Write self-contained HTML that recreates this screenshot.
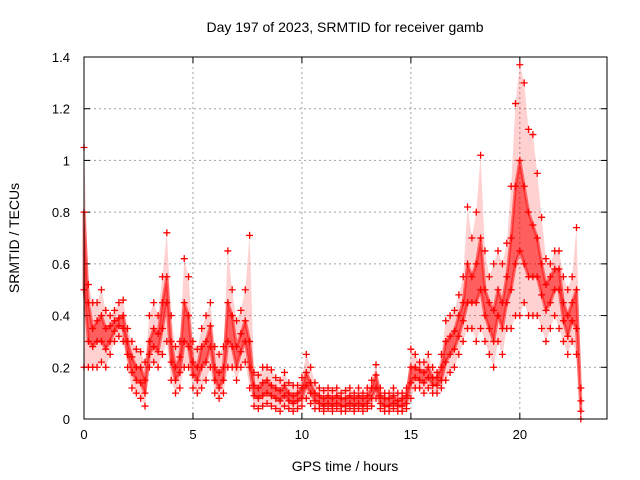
<!DOCTYPE html>
<html><head><meta charset="utf-8"><style>
body{margin:0;background:#fff}
svg{display:block;font-family:"Liberation Sans",sans-serif}
</style></head><body>
<svg id="c" width="640" height="480"></svg>
<script>
const times=[0.0,0.2,0.4,0.6,0.8,1.0,1.2,1.4,1.6,1.8,2.0,2.2,2.4,2.6,2.8,3.0,3.2,3.4,3.6,3.8,4.0,4.2,4.4,4.6,4.8,5.0,5.2,5.4,5.6,5.8,6.0,6.2,6.4,6.6,6.8,7.0,7.2,7.4,7.6,7.8,8.0,8.2,8.4,8.6,8.8,9.0,9.2,9.4,9.6,9.8,10.0,10.2,10.4,10.6,10.8,11.0,11.2,11.4,11.6,11.8,12.0,12.2,12.4,12.6,12.8,13.0,13.2,13.4,13.6,13.8,14.0,14.2,14.4,14.6,14.8,15.0,15.2,15.4,15.6,15.8,16.0,16.2,16.4,16.6,16.8,17.0,17.2,17.4,17.6,17.8,18.0,18.2,18.4,18.6,18.8,19.0,19.2,19.4,19.6,19.8,20.0,20.2,20.4,20.6,20.8,21.0,21.2,21.4,21.6,21.8,22.0,22.2,22.4,22.6,22.8];
const lowVals=[0.2,0.2,0.2,0.2,0.22,0.2,0.25,0.3,0.32,0.3,0.2,0.12,0.1,0.08,0.05,0.2,0.22,0.2,0.25,0.3,0.15,0.1,0.12,0.2,0.2,0.12,0.1,0.12,0.15,0.2,0.1,0.08,0.1,0.2,0.2,0.15,0.2,0.22,0.12,0.05,0.04,0.05,0.06,0.05,0.04,0.03,0.05,0.04,0.03,0.04,0.05,0.08,0.06,0.04,0.04,0.03,0.04,0.03,0.04,0.03,0.03,0.04,0.03,0.04,0.03,0.04,0.05,0.08,0.04,0.03,0.03,0.04,0.03,0.03,0.04,0.08,0.12,0.12,0.1,0.12,0.1,0.1,0.12,0.15,0.18,0.2,0.25,0.3,0.35,0.35,0.3,0.35,0.3,0.25,0.2,0.3,0.25,0.35,0.35,0.4,0.4,0.45,0.4,0.4,0.4,0.35,0.3,0.35,0.4,0.35,0.3,0.25,0.3,0.25,0.0];
const lowMidVals=[0.5,0.3,0.28,0.3,0.3,0.27,0.3,0.34,0.36,0.35,0.25,0.18,0.15,0.14,0.1,0.25,0.28,0.26,0.35,0.45,0.22,0.15,0.18,0.3,0.28,0.17,0.15,0.2,0.22,0.28,0.15,0.12,0.15,0.3,0.28,0.2,0.26,0.3,0.2,0.09,0.08,0.09,0.1,0.09,0.08,0.07,0.09,0.07,0.06,0.07,0.08,0.13,0.1,0.07,0.06,0.05,0.06,0.05,0.06,0.05,0.05,0.06,0.05,0.06,0.05,0.06,0.08,0.12,0.06,0.05,0.05,0.06,0.05,0.05,0.06,0.14,0.16,0.15,0.14,0.16,0.13,0.13,0.15,0.22,0.25,0.27,0.32,0.38,0.45,0.45,0.45,0.5,0.4,0.35,0.3,0.4,0.35,0.45,0.5,0.6,0.65,0.6,0.55,0.55,0.55,0.48,0.42,0.45,0.5,0.5,0.38,0.32,0.38,0.35,0.03];
const highMidVals=[0.8,0.45,0.35,0.38,0.4,0.35,0.36,0.38,0.39,0.4,0.3,0.24,0.2,0.2,0.15,0.3,0.35,0.33,0.45,0.55,0.3,0.2,0.24,0.45,0.4,0.22,0.2,0.28,0.3,0.36,0.2,0.18,0.2,0.45,0.4,0.28,0.33,0.38,0.3,0.13,0.12,0.14,0.15,0.13,0.12,0.11,0.13,0.1,0.09,0.1,0.12,0.18,0.14,0.1,0.09,0.08,0.09,0.08,0.09,0.08,0.08,0.09,0.08,0.09,0.08,0.09,0.12,0.17,0.09,0.08,0.08,0.09,0.07,0.08,0.09,0.2,0.2,0.19,0.18,0.2,0.16,0.16,0.2,0.3,0.32,0.34,0.4,0.45,0.6,0.55,0.6,0.7,0.5,0.45,0.42,0.5,0.45,0.55,0.7,0.9,1.0,0.9,0.8,0.75,0.7,0.6,0.52,0.55,0.58,0.58,0.45,0.4,0.45,0.5,0.07];
const highVals=[1.05,0.52,0.45,0.45,0.5,0.42,0.4,0.42,0.45,0.46,0.35,0.3,0.27,0.26,0.22,0.4,0.45,0.4,0.55,0.72,0.4,0.28,0.3,0.62,0.55,0.3,0.27,0.35,0.4,0.45,0.28,0.25,0.28,0.65,0.5,0.38,0.42,0.5,0.71,0.18,0.17,0.2,0.2,0.19,0.16,0.15,0.18,0.14,0.13,0.13,0.16,0.25,0.2,0.14,0.12,0.11,0.12,0.11,0.12,0.1,0.11,0.12,0.1,0.12,0.1,0.12,0.15,0.21,0.12,0.1,0.1,0.12,0.1,0.1,0.12,0.27,0.25,0.22,0.22,0.25,0.2,0.18,0.25,0.38,0.4,0.42,0.48,0.55,0.82,0.7,0.8,1.02,0.65,0.55,0.6,0.65,0.6,0.68,0.9,1.22,1.37,1.3,1.12,1.1,0.95,0.78,0.62,0.6,0.65,0.65,0.55,0.5,0.55,0.74,0.12];
const xTicks=[0,5,10,15,20];
const yTicks=[0,0.2,0.4,0.6,0.8,1,1.2,1.4];
const yTickLabels=["0","0.2","0.4","0.6","0.8","1","1.2","1.4"];

const L=84,R=607,T=57,B=419;
const xs=v=>L+(v/24)*(R-L);
const ys=v=>B-(v/1.4)*(B-T);
const NS="http://www.w3.org/2000/svg";
const svg=document.getElementById('c');
function mk(tag,attrs,parent){const e=document.createElementNS(NS,tag);for(const k in attrs)e.setAttribute(k,attrs[k]);(parent||svg).appendChild(e);return e;}

const grid=mk('g',{});


xTicks.forEach(v=>{
  if(v>0){mk('line',{x1:xs(v),x2:xs(v),y1:T,y2:B,stroke:'#a0a0a0','stroke-dasharray':'2,3'},grid);}
  mk('line',{x1:xs(v),x2:xs(v),y1:B,y2:B-6,stroke:'#000'},grid);
  mk('line',{x1:xs(v),x2:xs(v),y1:T,y2:T+6,stroke:'#000'},grid);
  const t=mk('text',{x:xs(v),y:B+20,'text-anchor':'middle','font-size':'13',fill:'#000'});
  t.textContent=v;
  
  
});
yTicks.forEach((v,i)=>{
  if(v>0&&v<1.4){mk('line',{x1:L,x2:R,y1:ys(v),y2:ys(v),stroke:'#a0a0a0','stroke-dasharray':'2,3'},grid);}
  mk('line',{x1:L,x2:L+6,y1:ys(v),y2:ys(v),stroke:'#000'},grid);
  mk('line',{x1:R,x2:R-6,y1:ys(v),y2:ys(v),stroke:'#000'},grid);
  const t=mk('text',{x:L-14,y:ys(v)+5,'text-anchor':'end','font-size':'13',fill:'#000'});
  t.textContent=yTickLabels[i];
  
  
});

function bandPath(top,bot){
  let d='';
  times.forEach((t,i)=>{d+=(i?'L':'M')+xs(t)+','+ys(top[i]);});
  for(let i=times.length-1;i>=0;i--){d+='L'+xs(times[i])+','+ys(bot[i]);}
  return d+'Z';
}
const outer=mk('path',{d:bandPath(highVals,lowVals),fill:'#ff0000','fill-opacity':'0.18',stroke:'none'});


const inner=mk('path',{d:bandPath(highMidVals,lowMidVals),fill:'#ff0000','fill-opacity':'0.55',stroke:'#ff0000','stroke-opacity':'0.5','stroke-width':'3','stroke-linejoin':'round'});



const pts=mk('g',{stroke:'#ff0000','stroke-width':'1.3',fill:'none'});


[lowVals,lowMidVals,highMidVals,highVals].forEach(arr=>{
  arr.forEach((v,i)=>{
    const x=xs(times[i]),y=ys(v);
    const p=mk('path',{d:`M${x-3.5},${y}H${x+3.5}M${x},${y-3.5}V${y+3.5}`},pts);
    
    
  });
});

const frame=mk('rect',{x:L,y:T,width:R-L,height:B-T,fill:'none',stroke:'#000'});



const title=mk('text',{x:345,y:32,'text-anchor':'middle','font-size':'14',fill:'#000'});
title.textContent='Day 197 of 2023, SRMTID for receiver gamb';


const xl=mk('text',{x:345,y:471,'text-anchor':'middle','font-size':'14',fill:'#000'});
xl.textContent='GPS time / hours';


const yl=mk('text',{x:0,y:0,'text-anchor':'middle','font-size':'14',fill:'#000',transform:'translate(19,238) rotate(-90)'});
yl.textContent='SRMTID / TECUs';


</script>
</body></html>
